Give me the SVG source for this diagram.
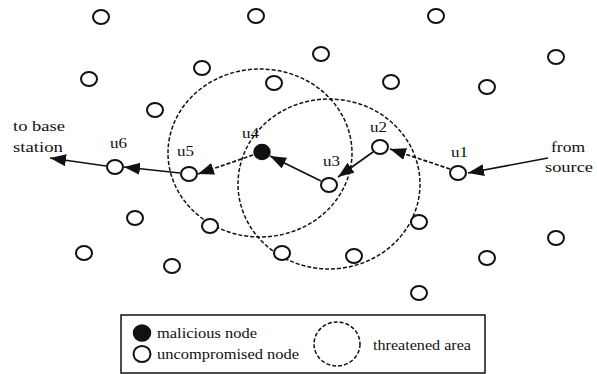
<svg xmlns="http://www.w3.org/2000/svg" width="597" height="374" viewBox="0 0 597 374">
<style>
.n{fill:#fff;stroke:#111;stroke-width:2}
.m{fill:#111;stroke:#111;stroke-width:1.5}
.area{fill:none;stroke:#111;stroke-width:1.5;stroke-dasharray:4 2}
.e{fill:none;stroke:#111;stroke-width:1.7}
.d{stroke-dasharray:4 2}
text{font-family:"Liberation Serif","Times New Roman",serif;font-size:14px;fill:#111}
</style>
<defs>
<marker id="ah" markerUnits="userSpaceOnUse" markerWidth="18" markerHeight="14" refX="16" refY="6" orient="auto">
<path d="M0,0 L16,6 L0,12 Z" fill="#111"/>
</marker>
</defs>
<rect width="597" height="374" fill="#fff"/>
<g id="areas">
<ellipse class="area" cx="260" cy="153" rx="92" ry="84"/>
<ellipse class="area" cx="329" cy="184" rx="91" ry="85"/>
</g>
<g id="connectors">
<line class="e" x1="548" y1="158" x2="468" y2="173" marker-end="url(#ah)"/>
<line class="e d" x1="450" y1="169" x2="390" y2="149" marker-end="url(#ah)"/>
<line class="e" x1="373" y1="152" x2="338" y2="177" marker-end="url(#ah)"/>
<line class="e" x1="321" y1="181" x2="270" y2="156" marker-end="url(#ah)"/>
<line class="e d" x1="253" y1="155" x2="198" y2="174" marker-end="url(#ah)"/>
<line class="e" x1="180" y1="173" x2="124" y2="167" marker-end="url(#ah)"/>
<line class="e" x1="106" y1="166" x2="50" y2="158" marker-end="url(#ah)"/>
</g>
<g id="others">
<ellipse class="n" cx="101" cy="17" rx="8" ry="7"/>
<ellipse class="n" cx="256" cy="16" rx="8" ry="7"/>
<ellipse class="n" cx="436" cy="16" rx="8" ry="7"/>
<ellipse class="n" cx="202" cy="68" rx="8" ry="7"/>
<ellipse class="n" cx="321" cy="54" rx="8" ry="7"/>
<ellipse class="n" cx="556" cy="57" rx="8" ry="7"/>
<ellipse class="n" cx="89" cy="79" rx="8" ry="7"/>
<ellipse class="n" cx="274" cy="83" rx="8" ry="7"/>
<ellipse class="n" cx="391" cy="82" rx="8" ry="7"/>
<ellipse class="n" cx="487" cy="87" rx="8" ry="7"/>
<ellipse class="n" cx="155" cy="110" rx="8" ry="7"/>
<ellipse class="n" cx="135" cy="218" rx="8" ry="7"/>
<ellipse class="n" cx="84" cy="253" rx="8" ry="7"/>
<ellipse class="n" cx="172" cy="266" rx="8" ry="7"/>
<ellipse class="n" cx="210" cy="226" rx="8" ry="7"/>
<ellipse class="n" cx="282" cy="253" rx="8" ry="7"/>
<ellipse class="n" cx="354" cy="256" rx="8" ry="7"/>
<ellipse class="n" cx="419" cy="222" rx="8" ry="7"/>
<ellipse class="n" cx="419" cy="293" rx="8" ry="7"/>
<ellipse class="n" cx="487" cy="258" rx="8" ry="7"/>
<ellipse class="n" cx="556" cy="238" rx="8" ry="7"/>
</g>
<g id="u1"><ellipse class="n" cx="458" cy="173" rx="8" ry="7"/><text x="451" y="157" textLength="17" lengthAdjust="spacingAndGlyphs">u1</text></g>
<g id="u2"><ellipse class="n" cx="380" cy="147" rx="8" ry="7"/><text x="370" y="132" textLength="17" lengthAdjust="spacingAndGlyphs">u2</text></g>
<g id="u3"><ellipse class="n" cx="329" cy="185" rx="8" ry="7"/><text x="323" y="166" textLength="17" lengthAdjust="spacingAndGlyphs">u3</text></g>
<g id="u4"><ellipse class="m" cx="262" cy="152" rx="8" ry="7.5"/><text x="242" y="138" textLength="17" lengthAdjust="spacingAndGlyphs">u4</text></g>
<g id="u5"><ellipse class="n" cx="189" cy="174" rx="8" ry="7"/><text x="177" y="156" textLength="17" lengthAdjust="spacingAndGlyphs">u5</text></g>
<g id="u6"><ellipse class="n" cx="115" cy="167" rx="8" ry="7"/><text x="110" y="148" textLength="17" lengthAdjust="spacingAndGlyphs">u6</text></g>
<g id="base">
<text x="13" y="131" textLength="52" lengthAdjust="spacingAndGlyphs">to base</text>
<text x="13" y="152" textLength="50" lengthAdjust="spacingAndGlyphs">station</text>
</g>
<g id="source">
<text x="551" y="152" textLength="34" lengthAdjust="spacingAndGlyphs">from</text>
<text x="545" y="172" textLength="48" lengthAdjust="spacingAndGlyphs">source</text>
</g>
<g id="legend">
<rect x="121" y="315" width="364" height="58" fill="none" stroke="#111" stroke-width="1.5"/>
<ellipse class="m" cx="142" cy="333" rx="8.5" ry="8"/>
<text x="157" y="338" textLength="100" lengthAdjust="spacingAndGlyphs">malicious node</text>
<ellipse class="n" cx="142" cy="354" rx="8.5" ry="8"/>
<text x="157" y="359" textLength="142" lengthAdjust="spacingAndGlyphs">uncompromised node</text>
<ellipse class="area" cx="337" cy="344" rx="23" ry="22"/>
<text x="373" y="350" textLength="98" lengthAdjust="spacingAndGlyphs">threatened area</text>
</g>
</svg>
